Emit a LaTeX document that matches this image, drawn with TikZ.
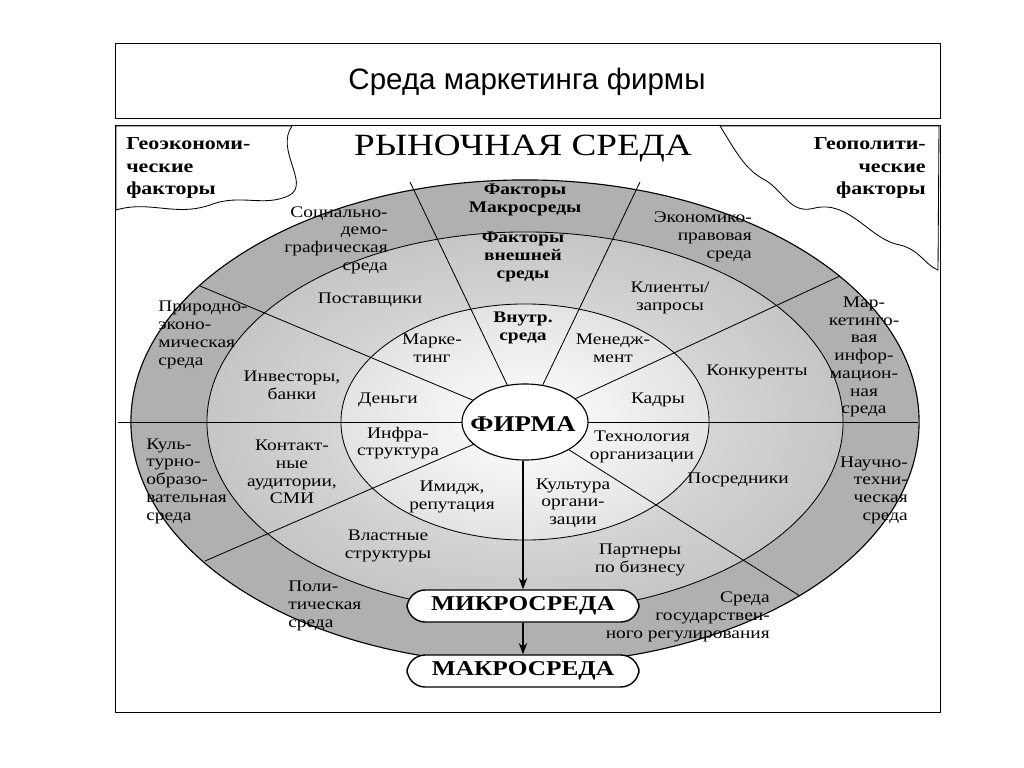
\documentclass[tikz,border=0pt]{standalone}
\usepackage{fontspec}
\usetikzlibrary{shapes.geometric,arrows.meta}
\setmainfont{Liberation Serif}[FakeStretch=1.2]
\newfontfamily\titlefont{Liberation Sans}
\begin{document}
\begin{tikzpicture}[x=0.025cm,y=-0.025cm,
  lbl/.style={font=\fontsize{11.5}{12.6}\selectfont,inner sep=0pt},
  blbl/.style={lbl,font=\fontsize{11.5}{12.6}\selectfont\bfseries},
  sep/.style={draw=black,line width=0.6pt},
  pill/.style={draw,line width=1pt,fill=white,rounded corners=13pt,minimum width=5.8cm,minimum height=0.8cm,font=\fontsize{15}{16}\selectfont\bfseries}]
\useasboundingbox[fill=white] (0,0) rectangle (1024,768);
% frames
\draw[line width=0.6pt] (115,43) rectangle (940,118);
\node[font=\titlefont\fontsize{21}{24}\selectfont] (title) at (527,82) {Среда маркетинга фирмы};
\draw[line width=0.6pt] (115,125) rectangle (940,712);
% rings
\coordinate (c) at (525,422);
\fill[gray!62] (c) ellipse [x radius=9.85cm, y radius=6.05cm];
\draw[line width=0.8pt] (c) ellipse [x radius=9.85cm, y radius=6.05cm];
\shade[inner color=gray!15, outer color=gray!45] (c) ellipse [x radius=7.95cm, y radius=4.75cm];
\draw[line width=0.6pt] (c) ellipse [x radius=7.95cm, y radius=4.75cm];
\shade[inner color=white, outer color=gray!22] (c) ellipse [x radius=4.6cm, y radius=2.95cm];
\draw[line width=0.6pt] (c) ellipse [x radius=4.6cm, y radius=2.95cm];
% radial separators
\coordinate (p1) at (410,182);
\coordinate (p2) at (640,182);
\coordinate (p3) at (840,276);
\coordinate (p4) at (200,286);
\coordinate (p5) at (205,561);
\coordinate (p6) at (800,596);
\coordinate (hl) at (118,422);
\coordinate (hr) at (918,422);
\foreach \p in {p1,p2,p3,p4,p5,p6} \draw[sep] (c) -- (\p);
\draw[sep] (hl) -- (hr);
% wavy geo regions
\draw[line width=0.6pt,fill=white] (116,126) -- (116,210) .. controls (150,200) and (175,217) .. (210,205)
  .. controls (240,193) and (265,208) .. (290,195) .. controls (310,183) and (275,150) .. (292,126) -- cycle;
\draw[line width=0.6pt,fill=white] (720,126) .. controls (735,150) and (745,170) .. (765,180)
  .. controls (785,192) and (790,215) .. (815,208) .. controls (850,200) and (870,240) .. (900,245)
  .. controls (920,250) and (925,265) .. (938,270) -- (939,126) -- cycle;
% center
\node[draw,line width=0.8pt,fill=white,ellipse,minimum width=3.15cm,minimum height=1.9cm,inner sep=0pt] (firm) at (c) {};
\node[font=\fontsize{16}{17}\selectfont\bfseries] at (523,424) {ФИРМА};
% pills and arrows
\node[pill] (micro) at (523,606) {МИКРОСРЕДА};
\node[pill] (macro) at (523,671) {МАКРОСРЕДА};
\coordinate (fb) at (523,461);
\draw[line width=0.8pt,-{Stealth[length=8pt]}] (fb) -- (micro.north);
\draw[line width=0.8pt,-{Stealth[length=8pt]}] (micro.south) -- (macro.north);
% headings
\node[font=\fontsize{22}{24}\selectfont] (rs) at (523,149) {РЫНОЧНАЯ СРЕДА};
\node[blbl,align=left,anchor=west,font=\fontsize{13}{15.8}\selectfont\bfseries] (geoe) at (126,168) {Геоэкономи-\\ческие\\факторы};
\node[blbl,align=right,anchor=east,font=\fontsize{13}{15.8}\selectfont\bfseries] (geop) at (926,168) {Геополити-\\ческие\\факторы};
% outer ring
\node[blbl,align=center] (o1) at (525,200) {Факторы\\Макросреды};
\node[lbl,align=right,anchor=east] (o2) at (388,240) {Социально-\\демо-\\графическая\\среда};
\node[lbl,align=right,anchor=east] (o3) at (752,237) {Экономико-\\правовая\\среда};
\node[lbl,align=left,anchor=west] (o4) at (158,335) {Природно-\\эконо-\\мическая\\среда};
\node[lbl,align=center] (o5) at (864,357) {Мар-\\кетинго-\\вая\\инфор-\\мацион-\\ная\\среда};
\node[lbl,align=left,anchor=west] (o6) at (146,481) {Куль-\\турно-\\образо-\\вательная\\среда};
\node[lbl,align=right,anchor=east] (o7) at (908,490) {Научно-\\техни-\\ческая\\среда};
\node[lbl,align=left,anchor=west] (o8) at (288,606) {Поли-\\тическая\\среда};
\node[lbl,align=right,anchor=east] (o9) at (770,617) {Среда\\государствен-\\ного регулирования};
% middle ring
\node[blbl,align=center] (m1) at (523,257) {Факторы\\внешней\\среды};
\node[lbl] (m2) at (370,300) {Поставщики};
\node[lbl,align=center] (m3) at (670,298) {Клиенты/\\запросы};
\node[lbl,align=center] (m4) at (292,385) {Инвесторы,\\банки};
\node[lbl] (m5) at (757,372) {Конкуренты};
\node[lbl,align=center] (m6) at (292,472) {Контакт-\\ные\\аудитории,\\СМИ};
\node[lbl] (m7) at (738,480) {Посредники};
\node[lbl,align=center] (m8) at (388,546) {Властные\\структуры};
\node[lbl,align=center] (m9) at (640,560) {Партнеры\\по бизнесу};
% inner ring
\node[blbl,align=center] (i1) at (523,328) {Внутр.\\среда};
\node[lbl,align=center] (i2) at (432,348) {Марке-\\тинг};
\node[lbl,align=center] (i3) at (613,348) {Менедж-\\мент};
\node[lbl] (i4) at (388,400) {Деньги};
\node[lbl] (i5) at (658,400) {Кадры};
\node[lbl,align=center] (i6) at (398,443) {Инфра-\\структура};
\node[lbl,align=center] (i7) at (642,447) {Технология\\организации};
\node[lbl,align=center] (i8) at (452,497) {Имидж,\\репутация};
\node[lbl,align=center] (i9) at (573,503) {Культура\\органи-\\зации};
\end{tikzpicture}
\end{document}
